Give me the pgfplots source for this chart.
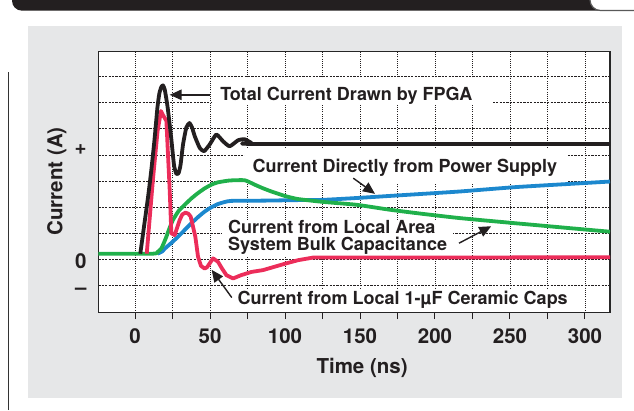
\documentclass[border=0pt]{standalone}
\usepackage{pgfplots}
\pgfplotsset{compat=1.18}
\usepackage{fontspec}
\setmainfont{TeX Gyre Heros}
\usetikzlibrary{arrows.meta}
\definecolor{ink}{HTML}{231F20}
\definecolor{panel}{HTML}{E6E7E8}
\definecolor{cred}{HTML}{EC2D5A}
\definecolor{cgreen}{HTML}{20B04B}
\definecolor{cblue}{HTML}{1C88CE}
\newcommand{\annot}{\bfseries\fontsize{18}{17.4}\selectfont}
\newcommand{\tickf}{\bfseries\fontsize{20.5}{24}\selectfont}
\begin{document}
\begin{tikzpicture}[x=1pt,y=1pt]
\useasboundingbox (0,0) rectangle (634,410);
\fill[white] (0,0) rectangle (634,410);
% header bar
\fill[ink] (12,410) -- (12,409.3) arc[start angle=180,end angle=270,radius=10] -- (600,399.3) -- (600,410) -- cycle;
\fill[white] (590,410) arc[start angle=180,end angle=270,radius=10.5] -- (634,399.5) -- (634,410) -- cycle;
\draw[black!65, line width=1.2pt] (590,410) arc[start angle=180,end angle=270,radius=10.5] -- (634,399.5);
% panel and side rule
\fill[panel] (28.3,12.3) rectangle (622.3,384);
\draw[black!80, line width=0.9pt] (8.7,0) -- (8.7,338.3);
\begin{axis}[
  at={(98.3pt,97.3pt)}, anchor=south west,
  width=511.7pt, height=261pt, scale only axis,
  xmin=-24.5, xmax=316.7, ymin=-2.04, ymax=7.95,
  axis background/.style={fill=white},
  axis line style={line width=1.3pt, draw=black!85},
  xtick={0,25,...,300},
  xticklabels={0,,50,,100,,150,,200,,250,,300},
  ytick={-1,0,...,7},
  yticklabels={},
  grid=major,
  x grid style={ink, line width=0.7pt, dash pattern=on 1pt off 1.2pt},
  y grid style={ink, line width=0.7pt, dash pattern=on 2.2pt off 1.2pt},
  tick align=outside,
  xtick pos=bottom, ytick pos=left,
  major tick length=6.5pt,
  ytick style={draw=none},
  xtick style={line width=1pt, draw=ink},
  ticklabel style={font=\tickf, text=ink, inner sep=0pt},
  xticklabel style={anchor=north, yshift=-9pt},
  xlabel={Time (ns)},
  xlabel style={at={(axis description cs:0.5155,-0.232)}, anchor=base, font=\tickf, text=ink, inner sep=0pt},
  ylabel={Current (A)},
  ylabel style={at={(axis description cs:-0.07,0.503)}, anchor=base, rotate=0, font=\tickf, text=ink, inner sep=0pt},
  clip=true,
]
% white boxes behind annotations
\fill[white] (51.5,5.93) rectangle (238.5,6.93);
\fill[white] (73.3,2.93) rectangle (288.7,4.26);
\fill[white] (58,0.13) rectangle (212,1.5);
\fill[white] (63.3,-1.98) rectangle (296.7,-1.12);

% Current directly from power supply (blue)
\addplot[cblue, line width=3.8pt, line join=round, smooth, tension=0.3] coordinates {
(15,0.22) (18,0.3) (20,0.42) (24,0.62) (28.7,0.87) (33,1.12) (37.5,1.38)
(42,1.62) (46.4,1.83) (51,2.0) (55.3,2.12) (60,2.2) (64.2,2.24) (86.4,2.25) (108.7,2.27)
(125.5,2.28) (147.8,2.35) (170,2.43) (192.2,2.51) (216.7,2.6) (254.4,2.77) (298.9,2.92) (316.7,2.98)};

% Current from local area bulk capacitance (green)
\addplot[cgreen, line width=3.8pt, line join=round, smooth, tension=0.3] coordinates {
(-24.5,0.22) (12,0.22) (15,0.28) (17.5,0.42) (19,0.6) (20.9,0.87) (23,1.2) (25.3,1.51)
(29,1.85) (33.1,2.09) (37.5,2.33) (42,2.54) (46.5,2.72) (50.9,2.86) (55.3,2.95) (63,3.02)
(73.1,3.03) (79.8,2.86) (85,2.73) (90.9,2.6) (99.8,2.43) (108.7,2.31) (125.5,2.2)
(147.8,2.09) (170,1.9) (192.2,1.74) (216.7,1.58) (254.4,1.38) (298.9,1.15) (316.7,1.06)};

% Current from local ceramic caps (red)
\addplot[cred, line width=3.8pt, line join=round] coordinates {
(7.8,0.22) (12,3.1) (15,4.9) (17.3,5.68) (18.4,5.55) (20.9,5.3) (23.1,2.66)
(24.2,1.0) (26.4,0.93) (29.8,1.51) (31.5,1.72) (33.6,1.79) (35.5,1.75) (37.1,1.64)
(40.2,0.87) (42,0.1) (44,-0.25) (46.4,-0.35) (48,-0.3) (49.8,-0.15) (52,0.04) (55.3,-0.09)
(58,-0.35) (60.9,-0.6) (65.3,-0.73) (70.9,-0.6) (77.6,-0.48) (85.3,-0.41) (93.1,-0.28)
(100.9,-0.15) (108.7,-0.03) (118.7,0.07) (316.7,0.08)};

% Total current (black)
\addplot[ink, line width=3.8pt, line join=round, smooth, tension=0.3] coordinates {
(3.5,0.22) (8.7,2.4) (11,3.5) (13,4.6) (14.9,5.8) (16.2,6.35) (17.5,6.6)
(18.7,6.66) (19.8,6.5) (21,6.1) (22,5.7) (24.2,4.6) (26,3.6) (27.5,3.28) (29,3.3)
(30.3,3.6) (32,4.4) (34.2,5.05) (36.3,5.22) (38,5.05) (39.8,4.72) (43.1,4.27) (46,4.14)
(49.8,4.4) (54.2,4.78) (58.7,4.52) (63.1,4.33) (68.7,4.56) (73.1,4.6) (77.6,4.46)
(81,4.42) (316.7,4.42)};

% annotations
\node[anchor=base west, inner sep=0pt, font=\annot, text=ink] at (56.7,6.07) {Total Current Drawn by FPGA};
\node[anchor=base west, inner sep=0pt, font=\annot, text=ink] at (78.2,3.32) {Current Directly from Power Supply};
\node[anchor=base west, inner sep=0pt, font=\annot, text=ink] at (62,1.0) {Current from Local Area};
\node[anchor=base west, inner sep=0pt, font=\annot, text=ink] at (62,0.34) {System Bulk Capacitance};
\node[anchor=base west, inner sep=0pt, font=\annot, text=ink] at (68.2,-1.74) {Current from Local 1-µF Ceramic Caps};

\draw[ink, line width=1.4pt, -{Triangle[length=12pt,width=10.5pt]}] (49.8,6.3) -- (23.1,6.3);
\draw[ink, line width=1.4pt, -{Triangle[length=12pt,width=10.5pt]}] (145.5,3.11) -- (160,2.51);
\draw[ink, line width=1.4pt, -{Triangle[length=12pt,width=10.5pt]}] (216,0.62) -- (237.5,1.27);
\draw[ink, line width=1.4pt, -{Triangle[length=12pt,width=10.5pt]}] (64.5,-1.46) -- (51.1,-0.40);

\coordinate (lp) at (axis cs:-24.5,4.19);
\coordinate (lz) at (axis cs:-24.5,-0.06);
\coordinate (lm) at (axis cs:-24.5,-1.23);
\end{axis}
\node[anchor=east, inner sep=0pt, font=\tickf, text=ink, xshift=-11.6pt] at (lp) {+};
\node[anchor=east, inner sep=0pt, font=\tickf, text=ink, xshift=-11.6pt] at (lz) {0};
\node[anchor=east, inner sep=0pt, font=\tickf, text=ink, xshift=-11.6pt] at (lm) {–};
\end{tikzpicture}
\end{document}
